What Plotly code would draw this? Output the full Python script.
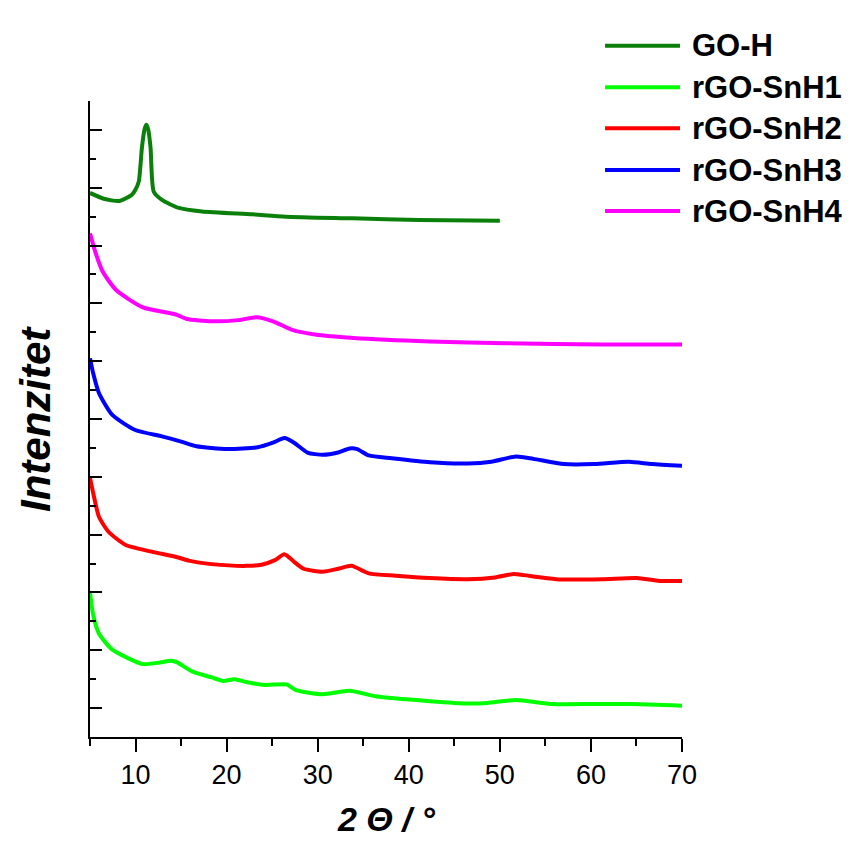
import plotly.graph_objects as go

# ---------------- data ----------------
names = ["GO-H", "rGO-SnH1", "rGO-SnH2", "rGO-SnH3", "rGO-SnH4"]
colors = ["#0a800a", "#00ff00", "#ff0000", "#0000ff", "#ff00ff"]

goh_x = [5.0, 6.5, 8.2, 9.6, 10.0, 10.36, 10.7, 11.0, 11.2, 11.4, 11.65, 12.0, 12.9, 14.75, 17.3, 22.8, 26.5, 33.8, 41.1, 50.0]
goh_y = [9.41, 9.31, 9.27, 9.38, 9.47, 9.61, 10.19, 10.52, 10.59, 10.50, 10.19, 9.43, 9.29, 9.15, 9.09, 9.04, 9.00, 8.97, 8.94, 8.93]

h4_x = [5.0, 5.56, 6.39, 7.87, 10.81, 14.38, 15.64, 18.37, 21.32, 23.26, 25.09, 27.2, 29.71, 33.92, 42.3, 50.73, 61.22, 70.0]
h4_y = [8.71, 8.40, 8.05, 7.73, 7.43, 7.31, 7.23, 7.19, 7.21, 7.26, 7.19, 7.04, 6.96, 6.90, 6.84, 6.81, 6.79, 6.79]

h3_x = [5.0, 5.35, 5.98, 7.45, 9.97, 12.9, 15.01, 16.69, 20.05, 23.41, 25.09, 26.35, 27.41, 28.88, 30.56, 32.24, 33.5, 34.34, 35.6, 38.13, 42.32, 46.52, 49.05, 51.77, 53.67, 57.03, 60.39, 64.17, 66.69, 70.0]
h3_y = [6.55, 6.29, 5.95, 5.57, 5.31, 5.20, 5.11, 5.03, 4.98, 5.01, 5.09, 5.17, 5.09, 4.92, 4.88, 4.92, 4.99, 4.98, 4.87, 4.82, 4.75, 4.73, 4.76, 4.85, 4.81, 4.72, 4.72, 4.76, 4.72, 4.69]

h2_x = [5.0, 5.35, 5.98, 7.03, 8.92, 11.64, 14.58, 15.85, 18.37, 22.15, 23.83, 25.3, 26.35, 27.41, 28.45, 30.56, 32.24, 33.71, 35.6, 38.55, 42.32, 46.52, 49.46, 51.56, 52.62, 56.19, 61.22, 65.01, 67.53, 70.0]
h2_y = [4.48, 4.22, 3.81, 3.55, 3.32, 3.21, 3.11, 3.05, 2.99, 2.96, 2.98, 3.06, 3.16, 3.03, 2.91, 2.86, 2.91, 2.96, 2.83, 2.79, 2.75, 2.73, 2.76, 2.82, 2.80, 2.73, 2.73, 2.75, 2.70, 2.70]

h1_x = [5.0, 5.35, 5.98, 7.45, 10.81, 12.7, 13.96, 14.58, 16.27, 18.37, 19.63, 20.9, 22.15, 24.26, 26.57, 27.62, 30.56, 33.5, 36.44, 42.32, 46.52, 48.62, 51.77, 55.77, 60.39, 64.59, 70.0]
h1_y = [2.49, 2.11, 1.79, 1.51, 1.26, 1.29, 1.32, 1.29, 1.13, 1.03, 0.97, 1.00, 0.95, 0.90, 0.91, 0.81, 0.74, 0.80, 0.70, 0.62, 0.58, 0.59, 0.64, 0.57, 0.57, 0.57, 0.54]

series_x = [goh_x, h1_x, h2_x, h3_x, h4_x]
series_y = [goh_y, h1_y, h2_y, h3_y, h4_y]

x_ticks = [10, 20, 30, 40, 50, 60, 70]
x_title = "2 Θ / °"
y_title = "Intenzitet"

# ---------------- figure ----------------
FONT = "Liberation Sans, Arial, sans-serif"
fig = go.Figure()
for nm, col, xs, ys in zip(names, colors, series_x, series_y):
    fig.add_trace(go.Scatter(x=xs, y=ys, mode="lines", name=nm,
                             line=dict(color=col, width=4, shape="spline", smoothing=0.6),
                             showlegend=False))

# manual legend (long line samples like the reference)
leg_rows = [1.087, 1.0215, 0.957, 0.8915, 0.827]
for nm, col, yy in zip(names, colors, leg_rows):
    fig.add_shape(type="line", xref="paper", yref="paper", x0=0.870, x1=0.9966, y0=yy, y1=yy,
                  line=dict(color=col, width=4))
    fig.add_annotation(xref="paper", yref="paper", x=1.0135, y=yy, xanchor="left", yanchor="middle",
                       text="<b>" + nm + "</b>", showarrow=False,
                       font=dict(family=FONT, size=31, color="black"))

# axis titles
fig.add_annotation(xref="paper", yref="paper", x=0.5, y=0, yshift=-82, xanchor="center", yanchor="middle",
                   text="<b><i>" + x_title + "</i></b>", showarrow=False,
                   font=dict(family=FONT, size=34, color="black"))
fig.add_annotation(xref="paper", yref="paper", x=0, y=0.5, xshift=-55, xanchor="center", yanchor="middle",
                   text="<b><i>" + y_title + "</i></b>", showarrow=False, textangle=-90,
                   font=dict(family=FONT, size=42, color="black"))

fig.update_layout(
    width=851, height=843,
    margin=dict(l=90, r=169, t=101, b=106),
    paper_bgcolor="white", plot_bgcolor="white",
    font=dict(family=FONT, color="black"),
    xaxis=dict(range=[5, 70], tickvals=x_ticks, ticks="outside", ticklen=13, tickwidth=2,
               tickcolor="black", showline=True, linecolor="black", linewidth=2,
               showgrid=False, zeroline=False, tickfont=dict(size=27, family=FONT), automargin=False,
               minor=dict(dtick=5, tick0=5, ticks="outside", ticklen=7, tickwidth=2, tickcolor="black")),
    yaxis=dict(range=[0, 11], tick0=0.5, dtick=1, ticks="inside", ticklen=12, tickwidth=2,
               tickcolor="black", showline=True, linecolor="black", linewidth=2,
               showgrid=False, zeroline=False, showticklabels=False, automargin=False,
               minor=dict(tick0=0, dtick=1, ticks="inside", ticklen=6, tickwidth=2, tickcolor="black")),
)

fig.write_html("out.html", config={"displayModeBar": False},
               post_script="document.body.style.margin='0';document.body.style.overflow='hidden';")
